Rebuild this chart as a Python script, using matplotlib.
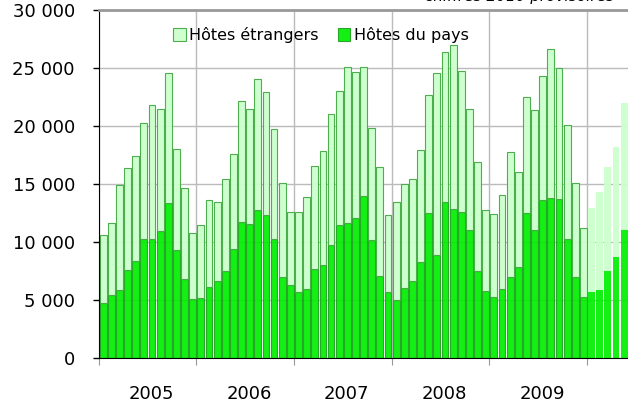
import numpy as np
import matplotlib
matplotlib.use("Agg")
import matplotlib.pyplot as plt
from matplotlib.ticker import FuncFormatter, FixedLocator, NullFormatter

plt.rcParams['font.family'] = ['DejaVu Sans']

# nuitées par mois, 2005 - 2009 (définitifs), puis 2010 (provisoires)
years = ["2005", "2006", "2007", "2008", "2009"]

total = [10620, 11650, 14930, 16330, 17420, 20210, 21810, 21470, 24540, 18030, 14670, 10730,
         11420, 13600, 13460, 15410, 17590, 22160, 21470, 24050, 22900, 19720, 15070, 12570,
         12600, 13890, 16560, 17850, 21010, 23020, 25090, 24660, 25090, 19830, 16480, 12280,
         13400, 14950, 15380, 17910, 22650, 24600, 26350, 26950, 24740, 21470, 16910, 12770,
         12430, 14010, 17710, 15990, 22500, 21380, 24280, 26640, 25000, 20060, 15040, 11190]
pays = [4760, 5450, 5830, 7610, 8380, 10220, 10280, 10960, 13320, 9270, 6770, 5050,
        5110, 6140, 6660, 7520, 9410, 11740, 11570, 12770, 12310, 10280, 7000, 6310,
        5630, 5970, 7690, 8010, 9760, 11480, 11650, 12080, 13980, 10160, 7090, 5630,
        5020, 6000, 6660, 8290, 12460, 8900, 13460, 12830, 12540, 11050, 7520, 5770,
        5250, 5970, 6920, 7840, 12460, 11050, 13600, 13780, 13720, 10220, 6950, 5280]

total_2010 = [12890, 14270, 16420, 18140, 22010]
pays_2010 = [5650, 5830, 7460, 8670, 11020]

etrangers = np.array(total) - np.array(pays)
etrangers_2010 = np.array(total_2010) - np.array(pays_2010)

c_pays = '#00ee00'
c_etr = '#ccffcc'

fig = plt.figure(figsize=(6.28, 4.03), dpi=100)
ax = fig.add_axes([98.5 / 628, 45.3 / 403, 1 - 98.5 / 628, 347.7 / 403])

x = np.arange(len(total)) + 0.57
x10 = np.arange(len(total), len(total) + len(total_2010)) + 0.57
w = 0.84

b_pays = ax.bar(x, pays, w, color=c_pays, edgecolor='#22a022', linewidth=0.8, alpha=0.92, zorder=2)
b_etr = ax.bar(x, etrangers, w, bottom=pays, color=c_etr, edgecolor='#44aa44', linewidth=0.8,
               alpha=0.95, zorder=2)
ax.bar(x10, pays_2010, w, color=c_pays, linewidth=0, alpha=0.92, zorder=2)
ax.bar(x10, etrangers_2010, w, bottom=pays_2010, color=c_etr, linewidth=0, alpha=0.95, zorder=2)

ax.set_ylim(0, 30000)
ax.set_xlim(0, 529.5 / 8.14)
ax.yaxis.set_major_locator(FixedLocator(np.arange(0, 30001, 5000)))
ax.yaxis.set_major_formatter(FuncFormatter(lambda v, p: f"{int(v):,}".replace(",", " ")))

ax.xaxis.set_major_locator(FixedLocator(np.arange(0, 61, 12)))
ax.xaxis.set_major_formatter(NullFormatter())
ax.xaxis.set_minor_locator(FixedLocator(np.arange(len(years)) * 12 + 6.5))
ax.set_xticklabels(years, minor=True)
ax.tick_params(axis='x', which='major', length=5, color='#999999', direction='out')
ax.tick_params(axis='x', which='minor', length=0, pad=19.5, labelsize=13)
ax.tick_params(axis='y', length=4, width=1, pad=13, labelsize=13)

ax.grid(True, which='major', color='#bbbbbb', linewidth=1, zorder=0)
ax.set_axisbelow(True)

ax.spines['right'].set_visible(False)
ax.spines['top'].set_color('#999999')
ax.spines['top'].set_linewidth(2)
ax.spines['left'].set_color('black')
ax.spines['bottom'].set_color('black')

ax.legend([b_etr, b_pays], ["Hôtes étrangers", "Hôtes du pays"],
          loc='center left', bbox_to_anchor=(0.1407, 0.928), ncol=2, frameon=False,
          fontsize=11.5, handlelength=0.8, handleheight=0.8, handletextpad=0.2,
          columnspacing=1.2, borderpad=0, borderaxespad=0)

fig.text(425 / 628, 1 - 1.5 / 403, "chiffres 2010 provisoires", style='italic',
         fontsize=11, ha='left', va='baseline')

fig.savefig("out.png", dpi=100)
